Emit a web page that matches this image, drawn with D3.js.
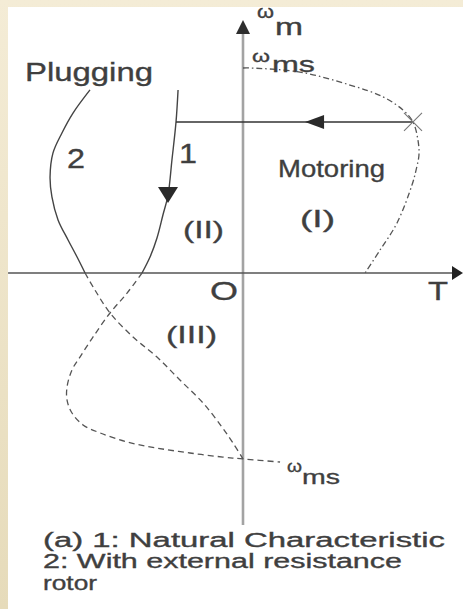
<!DOCTYPE html>
<html>
<head>
<meta charset="utf-8">
<script src="https://cdn.jsdelivr.net/npm/d3@7"></script>
<style>
html,body{margin:0;padding:0;background:#fff;}
svg{display:block;}
text{font-family:"Liberation Sans",Arial,sans-serif;fill:#3f3f3f;stroke:#3f3f3f;stroke-width:0.35;}
</style>
</head>
<body>
<svg id="chart" width="463" height="609"></svg>
<script>
// ---- data (T in units of breakdown torque, omega in units of omega_ms) ----
const motoringT   = [0, 0.041, 0.335, 0.629, 0.824, 0.941, 1.0, 1.029, 1.035, 1.018, 0.994, 0.906, 0.806, 0.718];
const motoringW   = [1.0, 1.0, 0.980, 0.917, 0.859, 0.795, 0.737, 0.649, 0.576, 0.502, 0.429, 0.244, 0.112, 0];

const curve1SolidT = [-0.382, -0.394, -0.418, -0.441, -0.471, -0.506, -0.547, -0.594];
const curve1SolidW = [0.893, 0.737, 0.551, 0.380, 0.283, 0.171, 0.078, 0];

const curve1DashT = [-0.594, -0.682, -0.782, -0.882, -0.959, -1.006, -1.035, -1.035, -1.006, -0.941, -0.841, -0.682, -0.506, -0.312, -0.118, 0, 0.218];
const curve1DashW = [0, -0.098, -0.195, -0.312, -0.410, -0.473, -0.556, -0.620, -0.683, -0.741, -0.780, -0.824, -0.854, -0.878, -0.898, -0.907, -0.922];

const curve2SolidT = [-0.900, -1.000, -1.065, -1.118, -1.135, -1.124, -1.088, -1.029, -0.976, -0.929];
const curve2SolidW = [0.893, 0.780, 0.683, 0.585, 0.468, 0.371, 0.259, 0.161, 0.078, 0];

const curve2DashT = [-0.929, -0.871, -0.782, -0.647, -0.506, -0.371, -0.235, -0.124, -0.059, 0];
const curve2DashW = [0, -0.083, -0.195, -0.312, -0.410, -0.522, -0.634, -0.751, -0.829, -0.907];

// transition from motoring to plugging (constant speed)
const transitionT = [1.0, -0.394];
const transitionW = [0.737, 0.737];
const transitionArrowT = 0.365;
const brakingArrowT = -0.441, brakingArrowW = 0.341;

const axisT = [-1.382, 1.294];
const axisW = [-1.229, 1.234];

const labelOmega = "ω";
const captionLines = ["(a) 1: Natural Characteristic", "2: With external resistance", "rotor"];

// ---- scales ----
const x = d3.scaleLinear().domain([0, 1]).range([243, 413]);
const y = d3.scaleLinear().domain([0, 1]).range([273, 68]);

const svg = d3.select("#chart");

// background frame
const defs = svg.append("defs");
const grad = defs.append("linearGradient").attr("id","bg").attr("x1",0).attr("y1",0).attr("x2",0).attr("y2",1);
grad.append("stop").attr("offset","0%").attr("stop-color","#F4ECD6");
grad.append("stop").attr("offset","100%").attr("stop-color","#E6DBBA");
svg.append("rect").attr("width",463).attr("height",609).attr("fill","url(#bg)");
svg.append("rect").attr("x",8).attr("y",7).attr("width",455).attr("height",602).attr("fill","#fff");

const zip = (a,b) => a.map((v,i)=>[v,b[i]]);
const line = d3.line().x(d=>x(d[0])).y(d=>y(d[1])).curve(d3.curveCatmullRom.alpha(0.5));
const straight = d3.line().x(d=>x(d[0])).y(d=>y(d[1]));

// axes
svg.append("line")
  .attr("x1", x(0)).attr("x2", x(0))
  .attr("y1", y(axisW[0])).attr("y2", y(axisW[1]) + 8)
  .attr("stroke","#a3a3a3").attr("stroke-width",2.6);
svg.append("line")
  .attr("x1", x(axisT[0])).attr("x2", x(axisT[1]) - 6)
  .attr("y1", y(0)).attr("y2", y(0))
  .attr("stroke","#555").attr("stroke-width",1.5);
// arrowheads of axes
const tipTop = [x(0), y(axisW[1])];
svg.append("path")
  .attr("d", `M${tipTop[0]},${tipTop[1]} L${tipTop[0]-7},${tipTop[1]+14} L${tipTop[0]+7},${tipTop[1]+14} Z`)
  .attr("fill","#2e2e2e");
const tipRight = [x(axisT[1]), y(0)];
svg.append("path")
  .attr("d", `M${tipRight[0]},${tipRight[1]} L${tipRight[0]-11},${tipRight[1]-7} L${tipRight[0]-11},${tipRight[1]+7} Z`)
  .attr("fill","#222");

// motoring natural characteristic (dash-dot)
svg.append("path").attr("d", line(zip(motoringT, motoringW)))
  .attr("fill","none").attr("stroke","#555").attr("stroke-width",1.3)
  .attr("stroke-dasharray","6,3,1.5,3");

// curve 1 solid and dashed
svg.append("path").attr("d", line(zip(curve1SolidT, curve1SolidW)))
  .attr("fill","none").attr("stroke","#444").attr("stroke-width",1.4);
svg.append("path").attr("d", line(zip(curve1DashT, curve1DashW)))
  .attr("fill","none").attr("stroke","#555").attr("stroke-width",1.3)
  .attr("stroke-dasharray","6,4");

// curve 2 solid and dashed
svg.append("path").attr("d", line(zip(curve2SolidT, curve2SolidW)))
  .attr("fill","none").attr("stroke","#444").attr("stroke-width",1.4);
svg.append("path").attr("d", line(zip(curve2DashT, curve2DashW)))
  .attr("fill","none").attr("stroke","#555").attr("stroke-width",1.3)
  .attr("stroke-dasharray","6,4");

// transition line
svg.append("path").attr("d", straight(zip(transitionT, transitionW)))
  .attr("fill","none").attr("stroke","#333").attr("stroke-width",1.5);
const ta = [x(transitionArrowT), y(transitionW[0])];
svg.append("path")
  .attr("d", `M${ta[0]},${ta[1]} L${ta[0]+19},${ta[1]-7} L${ta[0]+19},${ta[1]+7} Z`)
  .attr("fill","#2a2a2a");
// X marker at breakdown point
const bx = x(transitionT[0]), by = y(transitionW[0]);
svg.append("path")
  .attr("d", `M${bx-9},${by-9} L${bx+9},${by+9} M${bx-9},${by+9} L${bx+9},${by-9}`)
  .attr("stroke","#777").attr("stroke-width",1.1);
// braking arrow (down)
const ba = [x(brakingArrowT), y(brakingArrowW)];
svg.append("path")
  .attr("d", `M${ba[0]},${ba[1]} L${ba[0]-10},${ba[1]-16} L${ba[0]+10},${ba[1]-16} Z`)
  .attr("fill","#2a2a2a");

// labels
function txt(s, px, py, size, len){
  const t = svg.append("text").attr("x",px).attr("y",py).attr("font-size",size).text(s);
  if(len) t.attr("textLength",len).attr("lengthAdjust","spacingAndGlyphs");
  return t;
}
txt("Plugging", 25, 81, 25, 128);
txt("2", 67, 168, 27, 18);
txt("1", 179, 163, 27, 18);
txt("Motoring", 278, 177, 24, 107);
txt("(I)", 300, 227, 24, 35);
txt("(II)", 183, 238, 24, 41);
txt("(III)", 166, 343, 24, 51);
txt("O", 210, 300, 25, 28);
txt("T", 428, 300, 25, 20);
// omega labels
txt(labelOmega, 257, 18, 18, 17);
txt("m", 275, 35, 23, 28);
txt(labelOmega, 252, 62, 17, 18);
txt("ms", 272, 72, 22, 43);
txt(labelOmega, 287, 472, 17, 15);
txt("ms", 302, 484, 21, 38);
// caption
txt(captionLines[0], 43, 547, 20, 402);
txt(captionLines[1], 43, 568, 20, 359);
txt(captionLines[2], 43, 590, 20, 54);
</script>
</body>
</html>
